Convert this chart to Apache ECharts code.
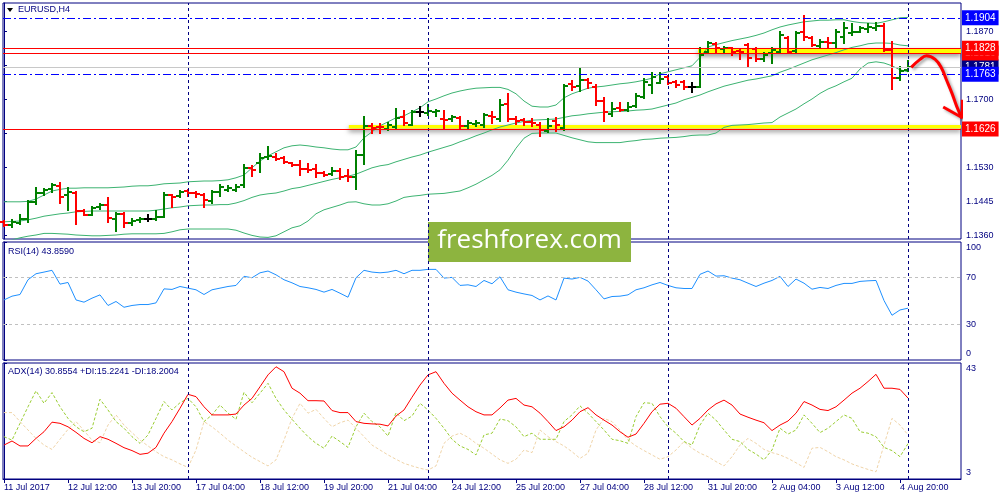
<!DOCTYPE html>
<html>
<head>
<meta charset="utf-8">
<script src="https://cdn.jsdelivr.net/npm/echarts@6/dist/echarts.min.js"></script>
<style>
html, body { margin: 0; padding: 0; background: #fff; }
#main { width: 1000px; height: 500px; }
</style>
</head>
<body>
<div id="main"></div>
<script>
// EURUSD H4, 11 Jul 04:00 .. 7 Aug 00:00 (one entry per bar)
var timeLabels = ['11 Jul 2017', '12 Jul 12:00', '13 Jul 20:00', '17 Jul 04:00', '18 Jul 12:00',
	'19 Jul 20:00', '21 Jul 04:00', '24 Jul 12:00', '25 Jul 20:00', '27 Jul 04:00',
	'28 Jul 12:00', '31 Jul 20:00', '2 Aug 04:00', '3 Aug 12:00', '4 Aug 20:00'];
var timeTickBars = [0, 8, 16, 24, 32, 40, 48, 56, 64, 72, 80, 88, 96, 104, 112];

var opens = [1.1393,1.1386,1.1391,1.1400,1.1443,1.1466,1.1475,1.1484,1.1460,1.1467,
	1.1422,1.1412,1.1432,1.1435,1.1400,1.1414,1.1392,1.1398,1.1400,1.1401,
	1.1407,1.1460,1.1458,1.1471,1.1466,1.1460,1.1446,1.1468,1.1473,1.1474,
	1.1485,1.1529,1.1542,1.1555,1.1555,1.1554,1.1540,1.1536,1.1526,1.1525,
	1.1517,1.1513,1.1522,1.1509,1.1505,1.1560,1.1634,1.1632,1.1627,1.1631,
	1.1657,1.1637,1.1668,1.1665,1.1669,1.1652,1.1650,1.1653,1.1634,1.1639,
	1.1635,1.1659,1.1652,1.1689,1.1650,1.1648,1.1644,1.1637,1.1622,1.1646,
	1.1629,1.1739,1.1734,1.1749,1.1732,1.1697,1.1664,1.1679,1.1674,1.1684,
	1.1705,1.1735,1.1741,1.1755,1.1743,1.1743,1.1730,1.1730,1.1819,1.1838,
	1.1826,1.1828,1.1821,1.1836,1.1826,1.1800,1.1815,1.1819,1.1853,1.1822,
	1.1868,1.1853,1.1834,1.1844,1.1840,1.1857,1.1866,1.1869,1.1875,1.1878,
	1.1884,1.1824,1.1753,1.1774];
var highs = [1.1397,1.1399,1.1411,1.1446,1.1478,1.1476,1.1489,1.1490,1.1478,1.1468,
	1.1424,1.1430,1.1439,1.1454,1.1417,1.1416,1.1402,1.1404,1.1410,1.1422,
	1.1465,1.1461,1.1471,1.1474,1.1469,1.1463,1.1471,1.1486,1.1484,1.1486,
	1.1536,1.1534,1.1564,1.1580,1.1564,1.1555,1.1542,1.1546,1.1539,1.1535,
	1.1518,1.1528,1.1525,1.1524,1.1571,1.1655,1.1638,1.1638,1.1641,1.1676,
	1.1670,1.1670,1.1682,1.1686,1.1674,1.1670,1.1659,1.1656,1.1646,1.1645,
	1.1664,1.1669,1.1699,1.1713,1.1655,1.1651,1.1652,1.1640,1.1651,1.1653,
	1.1736,1.1746,1.1776,1.1750,1.1735,1.1703,1.1691,1.1691,1.1692,1.1714,
	1.1750,1.1765,1.1765,1.1759,1.1745,1.1747,1.1740,1.1829,1.1844,1.1842,
	1.1832,1.1829,1.1824,1.1838,1.1828,1.1815,1.1828,1.1868,1.1857,1.1869,
	1.1909,1.1857,1.1849,1.1854,1.1874,1.1890,1.1889,1.1882,1.1889,1.1890,
	1.1889,1.1844,1.1782,1.1795];
var lows = [1.1384,1.1381,1.1388,1.1393,1.1439,1.1461,1.1468,1.1442,1.1424,1.1389,
	1.1410,1.1410,1.1427,1.1394,1.1370,1.1381,1.1387,1.1394,1.1395,1.1399,
	1.1405,1.1432,1.1457,1.1459,1.1457,1.1432,1.1442,1.1458,1.1470,1.1471,
	1.1482,1.1509,1.1518,1.1551,1.1549,1.1540,1.1533,1.1511,1.1518,1.1507,
	1.1509,1.1510,1.1500,1.1497,1.1477,1.1538,1.1616,1.1617,1.1624,1.1625,
	1.1635,1.1635,1.1659,1.1662,1.1659,1.1625,1.1647,1.1627,1.1627,1.1634,
	1.1632,1.1640,1.1646,1.1646,1.1639,1.1636,1.1634,1.1609,1.1618,1.1620,
	1.1624,1.1724,1.1721,1.1728,1.1686,1.1647,1.1659,1.1671,1.1671,1.1682,
	1.1703,1.1716,1.1740,1.1739,1.1732,1.1725,1.1719,1.1730,1.1815,1.1818,
	1.1816,1.1811,1.1801,1.1782,1.1795,1.1795,1.1792,1.1817,1.1815,1.1817,
	1.1849,1.1834,1.1832,1.1832,1.1832,1.1840,1.1860,1.1868,1.1869,1.1874,
	1.1822,1.1725,1.1749,1.1771];
var closes = [1.1387,1.1393,1.1400,1.1444,1.1466,1.1473,1.1485,1.1457,1.1469,1.1420,
	1.1412,1.1429,1.1436,1.1403,1.1414,1.1391,1.1397,1.1400,1.1400,1.1405,
	1.1461,1.1457,1.1468,1.1466,1.1463,1.1448,1.1469,1.1481,1.1478,1.1482,
	1.1529,1.1524,1.1553,1.1559,1.1551,1.1544,1.1535,1.1525,1.1524,1.1517,
	1.1512,1.1521,1.1507,1.1505,1.1560,1.1634,1.1628,1.1630,1.1635,1.1653,
	1.1641,1.1668,1.1668,1.1672,1.1672,1.1648,1.1655,1.1634,1.1640,1.1642,
	1.1660,1.1655,1.1687,1.1650,1.1646,1.1644,1.1640,1.1624,1.1634,1.1636,
	1.1734,1.1732,1.1749,1.1740,1.1696,1.1669,1.1676,1.1674,1.1682,1.1709,
	1.1743,1.1757,1.1750,1.1742,1.1736,1.1732,1.1730,1.1811,1.1840,1.1828,
	1.1828,1.1819,1.1819,1.1803,1.1800,1.1811,1.1824,1.1860,1.1819,1.1867,
	1.1857,1.1836,1.1844,1.1842,1.1869,1.1878,1.1869,1.1878,1.1882,1.1884,
	1.1824,1.1753,1.1771,1.1781];

// Bollinger bands as drawn
var bbUpper = [1.1444,1.1444,1.1444,1.1445,1.1451,1.1461,1.1471,1.1475,1.1478,1.1478,
	1.1479,1.1479,1.1479,1.1479,1.1480,1.1481,1.1483,1.1484,1.1484,1.1486,
	1.1489,1.1490,1.1491,1.1494,1.1495,1.1496,1.1496,1.1497,1.1499,1.1504,
	1.1511,1.1529,1.1546,1.1559,1.1569,1.1579,1.1584,1.1586,1.1584,1.1581,
	1.1579,1.1576,1.1574,1.1574,1.1581,1.1604,1.1619,1.1634,1.1644,1.1654,
	1.1659,1.1669,1.1679,1.1694,1.1701,1.1709,1.1716,1.1721,1.1725,1.1728,
	1.1729,1.1730,1.1730,1.1725,1.1714,1.1696,1.1683,1.1681,1.1681,1.1686,
	1.1704,1.1714,1.1721,1.1728,1.1731,1.1733,1.1736,1.1739,1.1741,1.1744,
	1.1748,1.1753,1.1764,1.1769,1.1774,1.1779,1.1784,1.1805,1.1831,1.1837,
	1.1842,1.1847,1.1851,1.1855,1.1860,1.1866,1.1874,1.1881,1.1886,1.1890,
	1.1894,1.1896,1.1898,1.1898,1.1899,1.1899,1.1895,1.1892,1.1891,1.1890,
	1.1894,1.1899,1.1904,1.1905];
var bbMiddle = [1.1394,1.1395,1.1396,1.1399,1.1403,1.1408,1.1411,1.1414,1.1416,1.1419,
	1.1420,1.1421,1.1421,1.1421,1.1421,1.1421,1.1421,1.1421,1.1421,1.1423,
	1.1426,1.1429,1.1431,1.1434,1.1435,1.1436,1.1436,1.1437,1.1437,1.1441,
	1.1447,1.1455,1.1461,1.1464,1.1466,1.1471,1.1477,1.1480,1.1485,1.1490,
	1.1495,1.1500,1.1504,1.1508,1.1513,1.1521,1.1529,1.1534,1.1537,1.1544,
	1.1550,1.1556,1.1561,1.1568,1.1574,1.1580,1.1586,1.1594,1.1601,1.1609,
	1.1616,1.1624,1.1631,1.1636,1.1641,1.1645,1.1648,1.1649,1.1650,1.1651,
	1.1655,1.1659,1.1661,1.1664,1.1666,1.1668,1.1669,1.1670,1.1671,1.1673,
	1.1674,1.1676,1.1681,1.1686,1.1691,1.1699,1.1705,1.1711,1.1719,1.1726,
	1.1733,1.1738,1.1743,1.1748,1.1751,1.1755,1.1759,1.1768,1.1775,1.1783,
	1.1791,1.1799,1.1805,1.1811,1.1817,1.1824,1.1830,1.1834,1.1839,1.1841,
	1.1841,1.1840,1.1836,1.1834];
var bbLower = [1.1341,1.1349,1.1354,1.1358,1.1361,1.1365,1.1365,1.1364,1.1363,1.1361,
	1.1360,1.1359,1.1359,1.1360,1.1361,1.1363,1.1364,1.1364,1.1364,1.1364,
	1.1365,1.1369,1.1374,1.1376,1.1376,1.1376,1.1376,1.1376,1.1376,1.1373,
	1.1366,1.1360,1.1356,1.1355,1.1359,1.1369,1.1379,1.1384,1.1396,1.1414,
	1.1424,1.1430,1.1436,1.1443,1.1444,1.1439,1.1436,1.1436,1.1439,1.1446,
	1.1455,1.1458,1.1460,1.1463,1.1464,1.1465,1.1468,1.1471,1.1479,1.1488,
	1.1499,1.1510,1.1524,1.1548,1.1578,1.1603,1.1615,1.1616,1.1616,1.1616,
	1.1610,1.1604,1.1599,1.1594,1.1592,1.1592,1.1592,1.1592,1.1595,1.1597,
	1.1600,1.1601,1.1603,1.1604,1.1605,1.1607,1.1610,1.1611,1.1611,1.1616,
	1.1630,1.1635,1.1636,1.1637,1.1639,1.1641,1.1642,1.1656,1.1666,1.1676,
	1.1689,1.1701,1.1715,1.1726,1.1734,1.1744,1.1753,1.1776,1.1791,1.1794,
	1.1791,1.1784,1.1774,1.1769];

var rsi = [50.9,54.1,55.5,68,73.1,74.5,76,64.3,65.7,50.9,
	49,52.4,55.2,46.2,49.6,44.7,46.2,47,47,48.4,
	60.3,59.8,62.3,60.9,59.5,55.5,59.5,60.9,62.3,63.2,
	70.9,69.7,73.9,75.4,72.2,68,65.4,62.3,61.2,59.8,
	57.5,59.8,56.6,53.2,69.7,76,74.5,73.9,74.5,76,
	73.1,76,76,76.8,76.8,69.4,70,63.2,63.7,62.3,
	67.4,64.6,70.5,59.5,57.5,56,54.7,50.9,54.3,50.9,
	69.4,68.6,70,66.9,59.5,51.8,53.8,54.1,55.2,59.5,
	61.2,63.7,65.7,63.2,61.2,60.6,60.6,72.6,75.4,71.1,
	71.4,69.4,68,65.1,62.3,65.1,67.4,70.9,62.3,68.6,
	65.1,60,61.5,60.6,63.2,64.9,64.9,66.6,67.1,67.4,
	50.4,37.9,42.4,43.9];

var adx = [14.7,16.1,14.4,14.4,17.0,19.3,22.6,22.2,21.0,19.1,
	17.0,15.5,17.6,16.7,15.3,13.8,12.8,11.5,11.9,13.9,
	18.8,22.8,27.4,32.2,31.4,27.9,25.1,25.1,25.1,25.4,
	28.5,30.8,34.8,38.9,41.7,40.0,34.3,32.6,30.0,30.0,
	29.9,26.6,25.9,25.9,22.8,22.2,22.0,21.9,21.3,24.7,
	26.8,31.2,35.4,38.9,40.0,36.0,32.6,30.2,27.9,26.2,
	25.1,25.1,27.5,30.2,30.8,28.5,27.9,25.7,22.8,19.7,
	21.0,23.3,26.2,27.6,25.1,23.3,21.6,19.3,17.4,18.5,
	22.2,26.2,28.8,29.1,27.4,24.5,21.6,23.9,26.8,28.9,
	30.2,28.5,25.4,24.3,23.3,22.4,19.7,21.6,23.0,25.7,
	29.7,28.5,27.0,26.6,27.9,30.2,32.6,34.3,36.6,39.1,
	34.3,34.3,33.9,30.9];
var plusDI = [17.6,16.4,22.2,27.9,33.4,29.1,32.8,27.9,23.9,21.0,
	19.3,20.5,30.5,26.8,22.8,20.5,17.6,15.3,18.2,23.9,
	29.7,26.8,29.3,30.8,27.9,22.8,25.1,28.5,25.7,23.6,
	32.9,29.3,32.6,36.0,30.8,26.8,23.6,20.5,17.6,15.3,
	13.6,17.8,15.9,13.9,21.0,25.7,22.8,21.0,17.8,25.9,
	23.1,24.7,29.1,26.8,23.9,20.5,16.7,14.4,13.2,11.3,
	18.2,18.8,23.7,23.1,21.0,17.6,18.8,16.7,16.7,16.7,
	22.8,25.1,28.2,25.7,22.8,19.9,16.7,16.2,15.3,24.5,
	29.3,29.1,24.5,21.0,18.8,15.9,14.7,21.6,25.7,23.3,
	19.9,16.7,15.9,13.2,11.6,9.6,13.0,20.5,18.5,19.9,
	25.1,22.2,19.0,20.5,22.8,25.1,23.9,19.3,18.8,17.6,
	13.9,12.8,10.7,15.2];
var minusDI = [25.9,25.9,22.8,19.9,17.0,14.7,13.2,16.7,20.1,22.8,
	19.7,16.4,15.5,21.6,25.1,21.6,19.0,16.4,14.4,12.4,
	10.7,9.6,8.2,7.0,13.0,22.8,21.0,18.8,16.4,14.4,
	12.4,10.5,9.0,7.5,9.6,16.4,23.9,29.1,25.7,27.0,
	23.9,21.0,22.4,23.3,20.5,17.6,14.7,13.0,11.3,9.8,
	8.4,7.5,6.7,6.1,7.5,15.3,17.8,18.8,17.4,15.3,
	13.6,11.6,9.6,8.4,9.8,13.0,12.1,19.9,17.6,15.9,
	14.4,12.4,10.1,11.9,19.9,23.9,22.8,19.9,16.4,14.4,
	12.8,11.3,9.8,10.7,13.0,15.9,13.6,11.9,10.7,9.0,
	7.5,10.7,14.7,17.0,15.3,13.2,12.1,11.3,10.1,8.6,
	7.0,13.6,13.9,12.4,10.7,9.6,8.2,7.2,6.3,5.5,
	14.7,23.9,21.6,18.2];

var priceTicks = [1.1360, 1.1445, 1.1530, 1.1615, 1.1700, 1.1785, 1.1870];
var rsiTicks = [0, 30, 70, 100];
var rsiLevels = [30, 70];
var adxTicks = [3, 43];
var weekSeparators = [23, 53, 83, 113];

// horizontal levels drawn on the chart
var blueLevels = [1.1904, 1.1763];
var redLevels = [1.1816, 1.1828, 1.1626];
var bidLevel = 1.1781;
// highlighted zones: [start bar, upper price, lower price]
var zones = [[43.1, 1.1636, 1.1627], [86.75, 1.1828, 1.1816]];
// hand drawn forecast arrow: [bar, price]
var arrowPath = [[113.4, 1.1780], [114.5, 1.1800], [115.3, 1.1809], [116.4, 1.1800],
	[117.2, 1.1778], [117.8, 1.1749], [118.5, 1.1715], [119.1, 1.1682], [119.75, 1.1653]];
var arrowHead = [[117.4, 1.1681], [119.8, 1.1654], [119.8, 1.1699]];

var chart = echarts.init(document.getElementById('main'));

var FONT = 'Liberation Sans';
var NAVY = '#000080';
var XMIN = -0.125, XMAX = 119.625;
var grids = [
	{ left: 3, right: 39, top: 3, height: 236 },
	{ left: 3, right: 39, top: 242, height: 118 },
	{ left: 3, right: 39, top: 363, height: 116 }
];
grids.forEach(function(g) {
	g.show = true;
	g.borderColor = NAVY;
	g.borderWidth = 1;
	g.backgroundColor = '#fff';
});

function pairs(arr) {
	return arr.map(function(v, i) { return [i, v]; });
}

var ohlc = opens.map(function(o, i) {
	return [i, o, highs[i], lows[i], closes[i]];
});

function renderOhlc(params, api) {
	var i = api.value(0);
	var o = api.value(1), c = api.value(4);
	var pO = api.coord([i, o]);
	var pH = api.coord([i, api.value(2)]);
	var pL = api.coord([i, api.value(3)]);
	var pC = api.coord([i, c]);
	var col = c > o ? '#008000' : (c < o ? '#ff0000' : '#000000');
	var x = Math.round(pH[0]);
	var st = { stroke: col, lineWidth: 2 };
	return {
		type: 'group',
		children: [
			{ type: 'line', shape: { x1: x, y1: Math.round(pH[1]) - 1, x2: x, y2: Math.round(pL[1]) + 1 }, style: st },
			{ type: 'line', shape: { x1: x - 4, y1: Math.round(pO[1]), x2: x, y2: Math.round(pO[1]) }, style: st },
			{ type: 'line', shape: { x1: x, y1: Math.round(pC[1]), x2: x + 4, y2: Math.round(pC[1]) }, style: st }
		]
	};
}

function levelLabel(bg) {
	return {
		show: true,
		position: 'end',
		distance: 1,
		formatter: function(p) { return p.value.toFixed(4); },
		backgroundColor: bg,
		color: '#fff',
		padding: [3, 3, 2, 3],
		fontSize: 10,
		fontFamily: FONT
	};
}

var levelData = [];
levelData.push({ yAxis: bidLevel, lineStyle: { color: '#c8c8c8', type: 'solid', width: 1 }, label: levelLabel('#000080') });
blueLevels.forEach(function(v) {
	levelData.push({ yAxis: v, lineStyle: { color: '#0000ff', type: [8, 3, 2, 3], width: 1 }, label: levelLabel('#0000ff') });
});
redLevels.forEach(function(v) {
	levelData.push({ yAxis: v, lineStyle: { color: '#ff0000', type: 'solid', width: 1 }, label: levelLabel('#ff0000') });
});

function separatorLines() {
	return {
		silent: true,
		symbol: ['none', 'none'],
		label: { show: false },
		lineStyle: { color: NAVY, type: [3, 3], width: 1 },
		data: weekSeparators.map(function(b) { return { xAxis: b }; })
	};
}

var zoneData = zones.map(function(z) {
	return [{ xAxis: z[0], yAxis: z[1] }, { xAxis: XMAX, yAxis: z[2] }];
});

function xAxisFor(idx, bottom) {
	return {
		type: 'value',
		gridIndex: idx,
		min: XMIN,
		max: XMAX,
		splitLine: { show: false },
		axisLine: { show: bottom, onZero: false, lineStyle: { color: NAVY } },
		axisTick: { show: bottom, customValues: timeTickBars, length: 4, lineStyle: { color: NAVY } },
		axisLabel: {
			show: bottom,
			customValues: timeTickBars,
			formatter: function(v) { return timeLabels[Math.round(v / 8)]; },
			align: 'left',
			margin: 4,
			color: NAVY,
			fontSize: 9,
			fontFamily: FONT
		}
	};
}

function yAxisFor(idx, min, max, ticks, fmt, rich) {
	return {
		type: 'value',
		gridIndex: idx,
		position: 'right',
		min: min,
		max: max,
		splitLine: { show: false },
		axisLine: { show: true, lineStyle: { color: NAVY } },
		axisTick: { show: true, customValues: ticks, length: 3, lineStyle: { color: NAVY } },
		axisLabel: {
			customValues: ticks,
			formatter: fmt,
			rich: rich,
			margin: 5,
			color: NAVY,
			fontSize: 9,
			fontFamily: FONT
		}
	};
}

var edgeRich = {
	t: { padding: [12, 0, 0, 0], fontSize: 9, fontFamily: FONT, color: NAVY },
	b: { padding: [0, 0, 12, 0], fontSize: 9, fontFamily: FONT, color: NAVY }
};

var option = {
	animation: false,
	backgroundColor: '#fff',
	grid: grids,
	xAxis: [xAxisFor(0, false), xAxisFor(1, false), xAxisFor(2, true)],
	yAxis: [
		yAxisFor(0, 1.1351, 1.1941, priceTicks, function(v) { return v.toFixed(4); }),
		yAxisFor(1, 0, 100, rsiTicks, function(v) {
			if (v === 100) return '{t|100}';
			if (v === 0) return '{b|0}';
			return String(v);
		}, edgeRich),
		yAxisFor(2, 3, 43, adxTicks, function(v) {
			return v === 43 ? '{t|43}' : '{b|3}';
		}, edgeRich)
	],
	series: [
		{
			name: 'BB lower',
			type: 'line',
			xAxisIndex: 0, yAxisIndex: 0,
			data: pairs(bbLower),
			symbol: 'none',
			lineStyle: { color: '#3cb371', width: 1 },
			z: 2,
			markArea: {
				silent: true,
				precision: 4,
				itemStyle: {
					color: '#ffff00',
					shadowColor: 'rgba(0,0,0,0.5)',
					shadowBlur: 5,
					shadowOffsetY: 3
				},
				data: zoneData
			}
		},
		{
			name: 'BB middle',
			type: 'line',
			xAxisIndex: 0, yAxisIndex: 0,
			data: pairs(bbMiddle),
			symbol: 'none',
			lineStyle: { color: '#3cb371', width: 1 },
			z: 2,
			markLine: separatorLines()
		},
		{
			name: 'BB upper',
			type: 'line',
			xAxisIndex: 0, yAxisIndex: 0,
			data: pairs(bbUpper),
			symbol: 'none',
			lineStyle: { color: '#3cb371', width: 1 },
			z: 2,
			markLine: {
				silent: true,
				precision: 4,
				symbol: ['none', 'none'],
				data: levelData
			}
		},
		{
			name: 'EURUSD',
			type: 'custom',
			xAxisIndex: 0, yAxisIndex: 0,
			renderItem: renderOhlc,
			encode: { x: 0, y: [1, 2, 3, 4] },
			data: ohlc,
			z: 4
		},
		{
			name: 'arrow',
			type: 'line',
			xAxisIndex: 0, yAxisIndex: 0,
			data: arrowPath,
			smooth: 0.4,
			symbol: 'none',
			clip: false,
			lineStyle: { color: '#ff0000', width: 3, shadowColor: 'rgba(0,0,0,0.35)', shadowBlur: 3, shadowOffsetX: 2, shadowOffsetY: 2 },
			z: 6
		},
		{
			name: 'arrow head',
			type: 'line',
			xAxisIndex: 0, yAxisIndex: 0,
			data: arrowHead,
			symbol: 'none',
			clip: false,
			lineStyle: { color: '#ff0000', width: 3, shadowColor: 'rgba(0,0,0,0.35)', shadowBlur: 3, shadowOffsetX: 2, shadowOffsetY: 2 },
			z: 6
		},
		{
			name: 'RSI(14)',
			type: 'line',
			xAxisIndex: 1, yAxisIndex: 1,
			data: pairs(rsi),
			symbol: 'none',
			lineStyle: { color: '#1e90ff', width: 1 },
			markLine: {
				silent: true,
				symbol: ['none', 'none'],
				label: { show: false },
				data: rsiLevels.map(function(v) {
					return { yAxis: v, lineStyle: { color: '#c0c0c0', type: [3, 3], width: 1 } };
				}).concat(weekSeparators.map(function(b) {
					return { xAxis: b, lineStyle: { color: NAVY, type: [3, 3], width: 1 } };
				}))
			}
		},
		{
			name: '-DI',
			type: 'line',
			xAxisIndex: 2, yAxisIndex: 2,
			data: pairs(minusDI),
			symbol: 'none',
			lineStyle: { color: '#f0d4a8', width: 1, type: [3, 2] },
			markLine: separatorLines()
		},
		{
			name: '+DI',
			type: 'line',
			xAxisIndex: 2, yAxisIndex: 2,
			data: pairs(plusDI),
			symbol: 'none',
			lineStyle: { color: '#9acd32', width: 1, type: [3, 2] }
		},
		{
			name: 'ADX(14)',
			type: 'line',
			xAxisIndex: 2, yAxisIndex: 2,
			data: pairs(adx),
			symbol: 'none',
			lineStyle: { color: '#ff0000', width: 1 }
		}
	],
	graphic: [
		{ type: 'polygon', shape: { points: [[7, 8], [13, 8], [10, 12]] }, style: { fill: '#000' }, z: 50 },
		{ type: 'text', x: 18, y: 10, style: { text: 'EURUSD,H4', fill: NAVY, font: '9px "Liberation Sans"', verticalAlign: 'middle' }, z: 50 },
		{ type: 'text', x: 8, y: 252, style: { text: 'RSI(14) 43.8590', fill: NAVY, font: '9px "Liberation Sans"', verticalAlign: 'middle' }, z: 50 },
		{ type: 'text', x: 8, y: 372, style: { text: 'ADX(14) 30.8554 +DI:15.2241 -DI:18.2004', fill: NAVY, font: '9px "Liberation Sans"', verticalAlign: 'middle' }, z: 50 },
		{
			type: 'group',
			z: 100,
			children: [
				{ type: 'rect', shape: { x: 428, y: 222, width: 203, height: 40 }, style: { fill: '#8db43f' } },
				{ type: 'text', x: 529.5, y: 241, style: { text: 'freshforex.com', fill: '#fff', font: '26px "Open Sans"', align: 'center', verticalAlign: 'middle' } }
			]
		}
	]
};

chart.setOption(option);
</script>
</body>
</html>
